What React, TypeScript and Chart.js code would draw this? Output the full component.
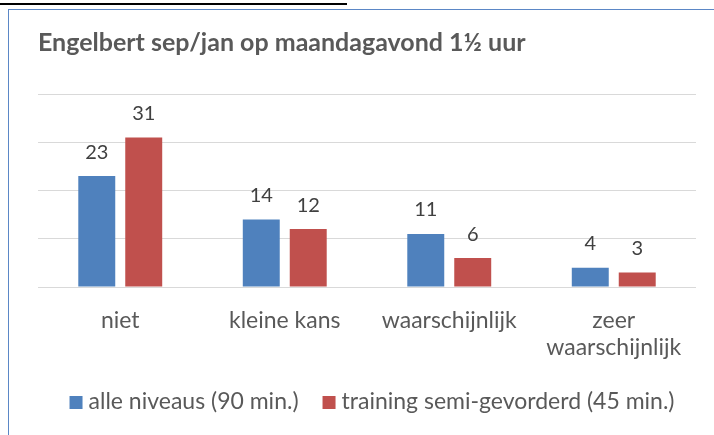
import React, { useEffect, useRef } from "react";
import { Chart, registerables } from "chart.js";

Chart.register(...registerables);

const TITLE = "Engelbert sep/jan op maandagavond 1½ uur";
const categories: (string | string[])[] = ["niet", "kleine kans", "waarschijnlijk", ["zeer", "waarschijnlijk"]];
const seriesNames = ["alle niveaus (90 min.)", "training semi-gevorderd (45 min.)"];
const allLevels = [23, 14, 11, 4];
const semiAdvanced = [31, 12, 6, 3];
const yTicks = [0, 10, 20, 30, 40];

const BLUE = "#4f81bd";
const RED = "#c0504d";
const FONT = "Lato";

const dataLabels = {
  id: "dataLabels",
  afterDatasetsDraw(chart: any) {
    const ctx = chart.ctx;
    ctx.save();
    ctx.font = `20px ${FONT}`;
    ctx.fillStyle = "#404040";
    ctx.textAlign = "center";
    ctx.textBaseline = "alphabetic";
    chart.data.datasets.forEach((ds: any, i: number) => {
      const meta = chart.getDatasetMeta(i);
      meta.data.forEach((bar: any, j: number) => {
        ctx.fillText(String(ds.data[j]), bar.x, bar.y - 17.5);
      });
    });
    ctx.restore();
  },
};

const customLegend = {
  id: "customLegend",
  afterDraw(chart: any) {
    const ctx = chart.ctx;
    const box = 13;
    const textGap = 6;
    const itemGap = 24;
    const baseline = 399;
    ctx.save();
    ctx.font = `23px ${FONT}`;
    ctx.textBaseline = "alphabetic";
    ctx.textAlign = "left";
    const items = chart.data.datasets.map((ds: any) => ({
      label: ds.label,
      color: ds.backgroundColor,
      w: ctx.measureText(ds.label).width,
    }));
    const total = items.reduce((s: number, it: any) => s + box + textGap + it.w, 0) + itemGap * (items.length - 1);
    const center = (chart.chartArea.left + chart.chartArea.right) / 2 + 5;
    let x = center - total / 2;
    items.forEach((it: any) => {
      ctx.fillStyle = it.color;
      ctx.fillRect(x, baseline - box, box, box);
      x += box + textGap;
      ctx.fillStyle = "#595959";
      ctx.fillText(it.label, x, baseline);
      x += it.w + itemGap;
    });
    ctx.restore();
  },
};

export default function App() {
  const ref = useRef<HTMLCanvasElement>(null);
  useEffect(() => {
    if (!ref.current) return;
    const chart = new Chart(ref.current, {
      type: "bar",
      data: {
        labels: categories,
        datasets: [
          { label: seriesNames[0], data: allLevels, backgroundColor: BLUE },
          { label: seriesNames[1], data: semiAdvanced, backgroundColor: RED },
        ],
      },
      options: {
        responsive: false,
        animation: false,
        devicePixelRatio: 1,
        layout: { padding: { left: 29, right: 18, top: 0, bottom: 70 } },
        datasets: { bar: { categoryPercentage: 0.571, barPercentage: 0.787 } },
        plugins: {
          title: {
            display: true,
            text: TITLE,
            align: "start",
            color: "#595959",
            font: { family: FONT, size: 25, weight: "bold", lineHeight: 1.2 },
            padding: { top: 18, bottom: 36 },
          },
          legend: { display: false },
          tooltip: { enabled: false },
        },
        scales: {
          x: {
            grid: { display: false, drawTicks: false },
            border: { display: false },
            afterFit: (s: any) => {
              s.height = 78;
            },
            ticks: {
              color: "#595959",
              font: { family: FONT, size: 23, lineHeight: 27 / 23 },
              padding: 20,
              maxRotation: 0,
              autoSkip: false,
            },
          },
          y: {
            min: yTicks[0],
            max: yTicks[yTicks.length - 1],
            afterBuildTicks: (s: any) => {
              s.ticks = yTicks.map((v) => ({ value: v }));
            },
            grid: { color: "#d9d9d9", lineWidth: 1, drawTicks: false },
            border: { display: false },
            ticks: { display: false },
          },
        },
      },
      plugins: [dataLabels, customLegend],
    });
    return () => chart.destroy();
  }, []);

  return (
    <div style={{ position: "fixed", left: 0, top: 0, width: 714, height: 435, overflow: "hidden", background: "#fff" }}>
      <div style={{ position: "absolute", left: 0, top: 3, width: 347, height: 2, background: "#000" }} />
      <div
        style={{
          position: "absolute",
          left: 8,
          top: 9,
          width: 800,
          height: 500,
          borderLeft: "1px solid #5b87c6",
          borderTop: "1px solid #5b87c6",
        }}
      />
      <div style={{ position: "absolute", left: 9, top: 10, width: 705, height: 425 }}>
        <canvas ref={ref} width={705} height={425} style={{ display: "block" }} />
      </div>
    </div>
  );
}
